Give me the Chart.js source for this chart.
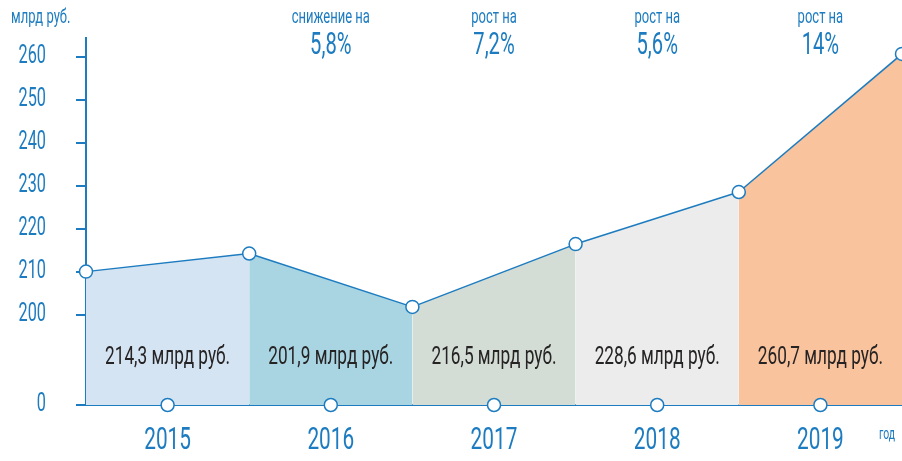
<!DOCTYPE html>
<html>
<head>
<meta charset="utf-8">
<script src="https://cdn.jsdelivr.net/npm/chart.js@4.4.1/dist/chart.umd.min.js"></script>
<style>
    html, body { margin: 0; padding: 0; background: #fff; }
    #wrap { width: 902px; height: 461px; }
</style>
</head>
<body>
<div id="wrap"><canvas id="revChart"></canvas></div>
<script>
// values, bn rub (first point is end of 2014)
let years = ['2015', '2016', '2017', '2018', '2019'];
let values = [210.1, 214.3, 201.9, 216.5, 228.6, 260.7];
let valueLabels = ['214,3 млрд руб.', '201,9 млрд руб.', '216,5 млрд руб.', '228,6 млрд руб.', '260,7 млрд руб.'];
let changeTitles = ['', 'снижение на', 'рост на', 'рост на', 'рост на'];
let changeValues = ['', '5,8%', '7,2%', '5,6%', '14%'];
let yTicks = [200, 210, 220, 230, 240, 250, 260];
let segColors = ['#d5e4f3', '#a9d5e2', '#d3ddd6', '#ebeceb', '#f9c39d'];

const BASE = 179.1;   // where "0" sits on the broken axis
const blue = '#1d7cc0';
const font = "Roboto, 'DejaVu Sans', sans-serif";
const squeeze = 0.65; // condensed look

let linePoints = [];
for (let i = 0; i < values.length; i++) {
    linePoints.push({ x: i, y: values[i] });
}
let yearPoints = [];
for (let i = 0; i < years.length; i++) {
    yearPoints.push({ x: i + 0.5, y: BASE });
}

function drawText(ctx, text, x, y, size, color, align) {
    ctx.save();
    ctx.font = size + 'px ' + font;
    ctx.fillStyle = color;
    ctx.textAlign = align || 'center';
    ctx.textBaseline = 'middle';
    ctx.translate(x, y);
    ctx.scale(squeeze, 1);
    ctx.fillText(text, 0, 0);
    ctx.restore();
}

const textPlugin = {
    id: 'texts',
    afterDatasetsDraw(chart) {
        const ctx = chart.ctx;
        const xs = chart.scales.x;
        const ys = chart.scales.y;
        const area = chart.chartArea;

        // axis labels
        ys.ticks.forEach((t, i) => {
            let lbl = t.value === BASE ? '0' : String(t.value);
            drawText(ctx, lbl, 46, ys.getPixelForTick(i), 25, blue, 'right');
        });
        xs.ticks.forEach((t, i) => {
            drawText(ctx, years[i], xs.getPixelForTick(i), area.bottom + 36, 32, blue);
        });

        for (let i = 0; i < years.length; i++) {
            let x = xs.getPixelForValue(i + 0.5);
            drawText(ctx, valueLabels[i], x, area.bottom - 48, 26.5, '#262324');
            drawText(ctx, changeTitles[i], x, 18, 20, blue);
            drawText(ctx, changeValues[i], x, 46, 31, blue);
        }
        drawText(ctx, 'млрд руб.', 11, 18, 20, blue, 'left');
        drawText(ctx, 'год', 879, 435, 16, blue, 'left');
    }
};

const config = {
    type: 'line',
    data: {
        datasets: [{
            data: linePoints,
            borderColor: blue,
            borderWidth: 1.5,
            pointRadius: 6.5,
            pointBackgroundColor: '#fff',
            pointBorderColor: blue,
            pointBorderWidth: 1.5,
            fill: 'start',
            backgroundColor: segColors[0],
            segment: {
                backgroundColor: c => segColors[c.p0DataIndex]
            },
            clip: false,
            order: 1
        }, {
            data: yearPoints,
            showLine: false,
            pointRadius: 6.5,
            pointBackgroundColor: '#fff',
            pointBorderColor: blue,
            pointBorderWidth: 1.5,
            clip: false,
            order: 0
        }]
    },
    options: {
        responsive: true,
        maintainAspectRatio: false,
        animation: false,
        layout: { autoPadding: false, padding: { top: 38, right: -1, left: 0, bottom: 0 } },
        plugins: {
            legend: { display: false },
            tooltip: { enabled: false }
        },
        scales: {
            x: {
                type: 'linear',
                min: 0,
                max: 5,
                afterBuildTicks: s => { s.ticks = years.map((y, i) => ({ value: i + 0.5 })); },
                afterFit: s => { s.height = 56; },
                grid: { display: false },
                border: { display: true, color: blue, width: 2 },
                ticks: { display: false }
            },
            y: {
                type: 'linear',
                min: BASE,
                max: 264.4,
                afterBuildTicks: s => { s.ticks = [BASE].concat(yTicks).map(v => ({ value: v })); },
                afterFit: s => { s.width = 86; },
                grid: {
                    drawOnChartArea: false,
                    drawTicks: true,
                    tickLength: 10,
                    color: blue,
                    lineWidth: 2
                },
                border: { display: true, color: blue, width: 2 },
                ticks: { display: false }
            }
        }
    },
    plugins: [textPlugin]
};

const revChart = new Chart(document.getElementById('revChart'), config);
</script>
</body>
</html>
